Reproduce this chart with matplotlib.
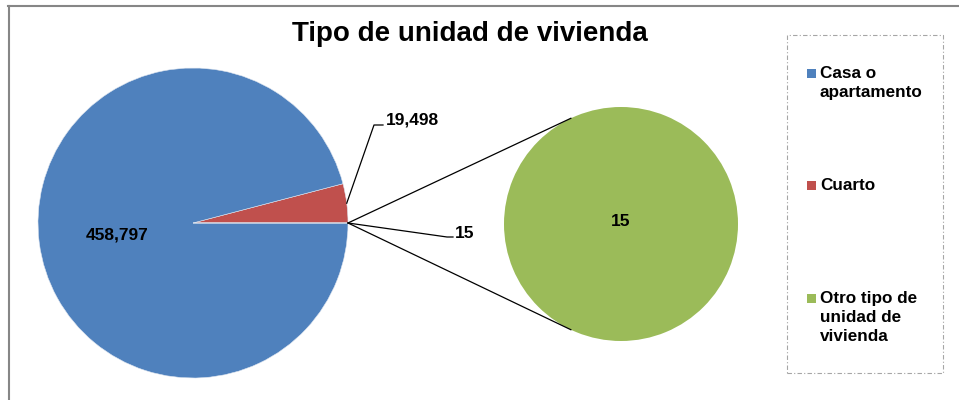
import numpy as np
import matplotlib.pyplot as plt
from matplotlib.patches import Rectangle

plt.rcParams['font.family'] = ['Liberation Sans', 'DejaVu Sans']

title = "Tipo de unidad de vivienda"
categories = ["Casa o\napartamento", "Cuarto", "Otro tipo de\nunidad de\nvivienda"]
values = [458797, 19498, 15]
colors = ["#4F81BD", "#C0504D", "#9BBB59"]

fig = plt.figure(figsize=(9.59, 4.0), dpi=100)
ax = fig.add_axes([0, 0, 1, 1])

# main pie: cuarto, casa, otro (counterclockwise from 3 o'clock)
c1 = (193, 177)
r1 = 155
ax.pie([values[1], values[0], values[2]], colors=[colors[1], colors[0], colors[2]],
       center=c1, radius=r1, startangle=0, counterclock=True,
       wedgeprops=dict(linewidth=0.4, edgecolor="#dfe6f0"), frame=True)

# secondary pie: only "otro"
c2 = (621, 176)
r2 = 117
ax.pie([values[2]], colors=[colors[2]], center=c2, radius=r2, frame=True,
       wedgeprops=dict(linewidth=0))
ax.set_xlim(0, 959)
ax.set_ylim(0, 400)
ax.axis('off')

# connector lines from the tip of the tiny slice to tangents of the second pie
p = np.array([c1[0] + r1, c1[1]])
d = np.hypot(c2[0] - p[0], c2[1] - p[1])
a = np.arccos(r2 / d)
for s in (1, -1):
    ang = np.pi + s * a
    ax.plot([p[0], c2[0] + r2 * np.cos(ang)], [p[1], c2[1] + r2 * np.sin(ang)],
            color="black", lw=0.9)

bold = dict(fontweight='bold', fontsize=12.5, color="black")
ax.text(117, 165, f"{values[0]:,}", ha='center', va='center', **bold)

mid = np.deg2rad(360 * values[1] / sum(values) / 2)
ax.plot([c1[0] + r1 * np.cos(mid), 374, 383], [c1[1] + r1 * np.sin(mid), 275, 275],
        color="black", lw=0.9)
ax.text(386, 280, f"{values[1]:,}", ha='left', va='center', **bold)

ax.plot([p[0], 447, 453], [p[1], 163, 163], color="black", lw=0.9)
ax.text(455, 166, f"{values[2]:,}", ha='left', va='center', **bold)
ax.text(c2[0], c2[1] + 2, f"{values[2]:,}", ha='center', va='center', **bold)

ax.text(470, 366, title, ha='center', va='center', fontsize=20, fontweight='bold')

# legend
ax.add_patch(Rectangle((787, 27), 156, 338, fill=False, edgecolor="#a6a6a6",
                       lw=0.8, linestyle=(0, (4, 2, 1, 2))))
leg_y = [327, 215, 102]
for lab, col, y in zip(categories, colors, leg_y):
    ax.add_patch(Rectangle((807, y - 4.5), 9, 9, facecolor=col, edgecolor='none'))
    ax.text(820, y + 7, lab, ha='left', va='top', fontsize=12.3, fontweight='bold',
            linespacing=1.35)

# chart border
ax.plot([8.5, 8.5], [0, 394.5], color="#868686", lw=1.5)
ax.plot([8, 959], [394.5, 394.5], color="#868686", lw=1.5)

fig.savefig("out.png", dpi=100)
